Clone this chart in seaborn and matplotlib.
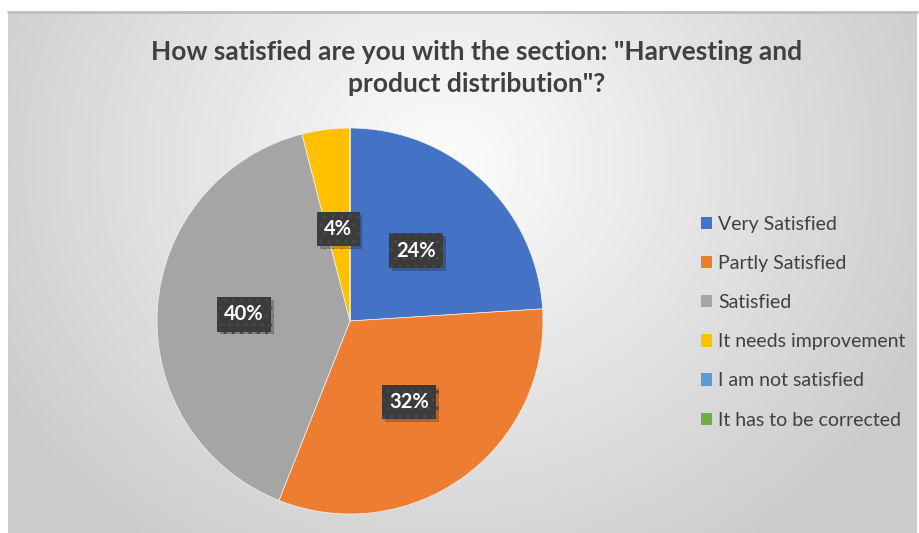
import numpy as np
import matplotlib
matplotlib.use("Agg")
import matplotlib.pyplot as plt
from matplotlib.lines import Line2D
from matplotlib.patches import Patch
import matplotlib.patheffects as pe
import seaborn as sns

# Survey answers (number of respondents) for the harvesting section
categories = ["Very Satisfied", "Partly Satisfied", "Satisfied",
              "It needs improvement", "I am not satisfied", "It has to be corrected"]
responses = [6, 8, 10, 1, 0, 0]
title = 'How satisfied are you with the section: "Harvesting and\nproduct distribution"?'

palette = sns.color_palette(["#4472C4", "#ED7D31", "#A5A5A5",
                             "#FFC000", "#5B9BD5", "#70AD47"])

sns.set_theme(style="white")
plt.rcParams["font.family"] = ["Lato", "DejaVu Sans"]
plt.rcParams["hatch.linewidth"] = 1.2

W, H = 920, 533
fig = plt.figure(figsize=(W / 100, H / 100), dpi=100)
fig.patch.set_facecolor("white")

# chart area with radial grey gradient
x0, y0top = 8, 12
bg = fig.add_axes([x0 / W, 0, (W - x0 - 3) / W, (H - y0top) / H])
bw, bh = W - x0 - 3, H - y0top
yy, xx = np.mgrid[0:bh, 0:bw]
cx, cy = 440, 150
d = np.sqrt((xx - cx) ** 2 + ((yy - cy) * 1.1) ** 2) / 520.0
d = np.clip(d, 0, 1)
light, dark = 0.99, 0.80
val = light - (light - dark) * d
bg.imshow(np.dstack([val, val, val]), extent=[0, bw, bh, 0], aspect="auto",
          interpolation="bilinear")
bg.set_xlim(0, bw)
bg.set_ylim(bh, 0)
bg.axis("off")
fig.add_artist(Line2D([x0 / W, (W - 3) / W], [(H - y0top) / H] * 2,
                      color="#bdbdbd", lw=2.0))

# pie
pcx, pcy, r = 350, 321, 193
ax = fig.add_axes([(pcx - r) / W, (H - pcy - r) / H, 2 * r / W, 2 * r / H])
ax.set_facecolor("none")
total = sum(responses)
wedges, _ = ax.pie(responses, colors=palette, startangle=90, counterclock=False,
                   radius=1.0, wedgeprops=dict(linewidth=0.5, edgecolor="#f2f2f2"))
ax.set_xlim(-1, 1)
ax.set_ylim(-1, 1)
ax.set_aspect("equal")
ax.axis("off")

# percentage labels in dark patterned boxes with a soft drop shadow
label_radius = [0.50, 0.52, 0.55, 0.48]
for i, (w, v) in enumerate(zip(wedges, responses)):
    if v == 0:
        continue
    ang = np.deg2rad((w.theta1 + w.theta2) / 2)
    rr = label_radius[i]
    x, y = rr * np.cos(ang), rr * np.sin(ang)
    pct = f"{round(100 * v / total)}%"
    t = ax.text(x, y, pct, ha="center", va="center", fontsize=14.5,
                fontweight="bold", color="white",
                bbox=dict(boxstyle="square,pad=0.36", facecolor="#3b3b3b",
                          edgecolor="#484848", linewidth=0, hatch=".."))
    t.get_bbox_patch().set_path_effects(
        [pe.SimplePatchShadow(offset=(2, -2), shadow_rgbFace="black", alpha=0.22),
         pe.Normal()])

# title
fig.text(477 / W, 1 - 68 / H, title, ha="center", va="center", fontsize=19,
         fontweight="bold", color="#404040", linespacing=1.42)

# legend
handles = [Patch(facecolor=c, edgecolor="none") for c in palette]
leg = fig.legend(handles, categories, loc="upper left",
                 bbox_to_anchor=(691 / W, 1 - 206 / H), frameon=False,
                 fontsize=14, handlelength=0.6, handleheight=0.6,
                 handletextpad=0.3, labelspacing=1.14, borderpad=0)
for t in leg.get_texts():
    t.set_color("#404040")

fig.savefig("out.png", dpi=100, facecolor=fig.get_facecolor())
